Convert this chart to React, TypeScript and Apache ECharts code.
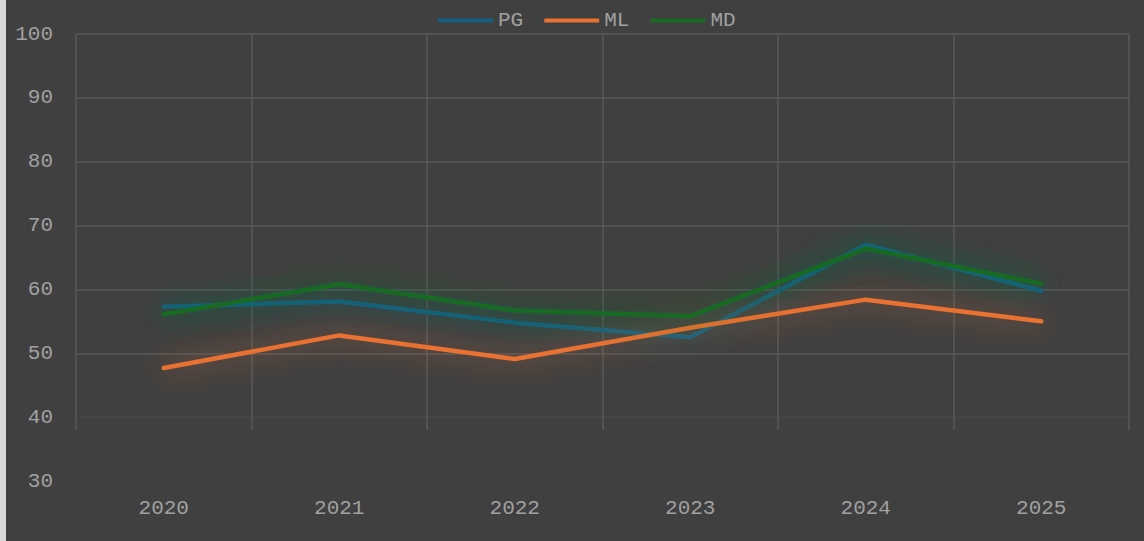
import React, { useEffect, useRef } from "react";
import * as echarts from "echarts";

const years = ["2020", "2021", "2022", "2023", "2024", "2025"];
const pgValues = [57.3, 58.1, 54.8, 52.5, 67.0, 59.8];
const mlValues = [47.7, 52.8, 49.1, 54.0, 58.4, 55.0];
const mdValues = [56.1, 60.8, 56.7, 55.8, 66.4, 60.9];
const seriesNames = ["PG", "ML", "MD"];
const seriesColors = ["#156082", "#E97132", "#196B24"];
const glowColors = ["rgba(21,96,130,1)", "rgba(233,113,50,0.8)", "rgba(25,107,36,1)"];

const FONT = "'Liberation Mono', 'DejaVu Sans Mono', monospace";
const TEXT_COLOR = "#a0a0a0";

export default function App() {
  const ref = useRef<HTMLDivElement>(null);
  useEffect(() => {
    if (!ref.current) return;
    const chart = echarts.init(ref.current, null, { renderer: "svg" });
    const values = [pgValues, mlValues, mdValues];
    chart.setOption({
      animation: false,
      backgroundColor: "#404040",
      textStyle: { fontFamily: FONT },
      graphic: [
        { type: "rect", left: 0, top: 0, shape: { x: 0, y: 0, width: 6, height: 541 }, style: { fill: "#d9d9d9" }, z: 100 },
      ],
      legend: {
        left: 433,
        top: 5,
        itemWidth: 55,
        itemHeight: 4,
        itemGap: 21,
        icon: "roundRect",
        data: seriesNames.map((n, i) => ({ name: n, itemStyle: { color: seriesColors[i] } })),
        textStyle: { color: TEXT_COLOR, fontSize: 21, fontFamily: FONT },
      },
      grid: [
        { left: 76, right: 15, top: 34, bottom: 60 },
        { left: 76, right: 15, top: 34, bottom: 111 },
      ],
      xAxis: [
        {
          type: "category",
          gridIndex: 0,
          data: years,
          boundaryGap: true,
          axisLine: { show: false },
          axisTick: { show: false },
          splitLine: { show: false },
          axisLabel: { color: TEXT_COLOR, fontSize: 21, fontFamily: FONT, margin: 17 },
        },
        {
          type: "category",
          gridIndex: 1,
          data: years,
          boundaryGap: true,
          axisLine: { show: false },
          axisTick: { show: false },
          axisLabel: { show: false },
          splitLine: { show: true, interval: 0, lineStyle: { color: "#585858", width: 1.5 } },
        },
      ],
      yAxis: [
        {
          type: "value",
          gridIndex: 0,
          min: 30,
          max: 100,
          interval: 10,
          axisLine: { show: false },
          axisTick: { show: false },
          axisLabel: { color: TEXT_COLOR, fontSize: 21, fontFamily: FONT, margin: 23 },
          splitLine: {
            show: true,
            lineStyle: {
              color: ["rgba(0,0,0,0)", "#474747", "#585858", "#585858", "#585858", "#585858", "#585858", "#585858"],
              width: 1.5,
            },
          },
        },
        {
          type: "value",
          gridIndex: 1,
          show: false,
          splitLine: { show: false },
        },
      ],
      series: seriesNames.map((name, i) => ({
        name,
        type: "line",
        xAxisIndex: 0,
        yAxisIndex: 0,
        data: values[i],
        symbol: "none",
        color: seriesColors[i],
        lineStyle: {
          width: 4.5,
          color: seriesColors[i],
          cap: "round",
          join: "round",
          shadowBlur: 28,
          shadowColor: glowColors[i],
        },
      })),
    });
    return () => chart.dispose();
  }, []);
  return (
    <div
      ref={ref}
      style={{ position: "absolute", left: 0, top: 0, width: 1144, height: 541 }}
    />
  );
}
